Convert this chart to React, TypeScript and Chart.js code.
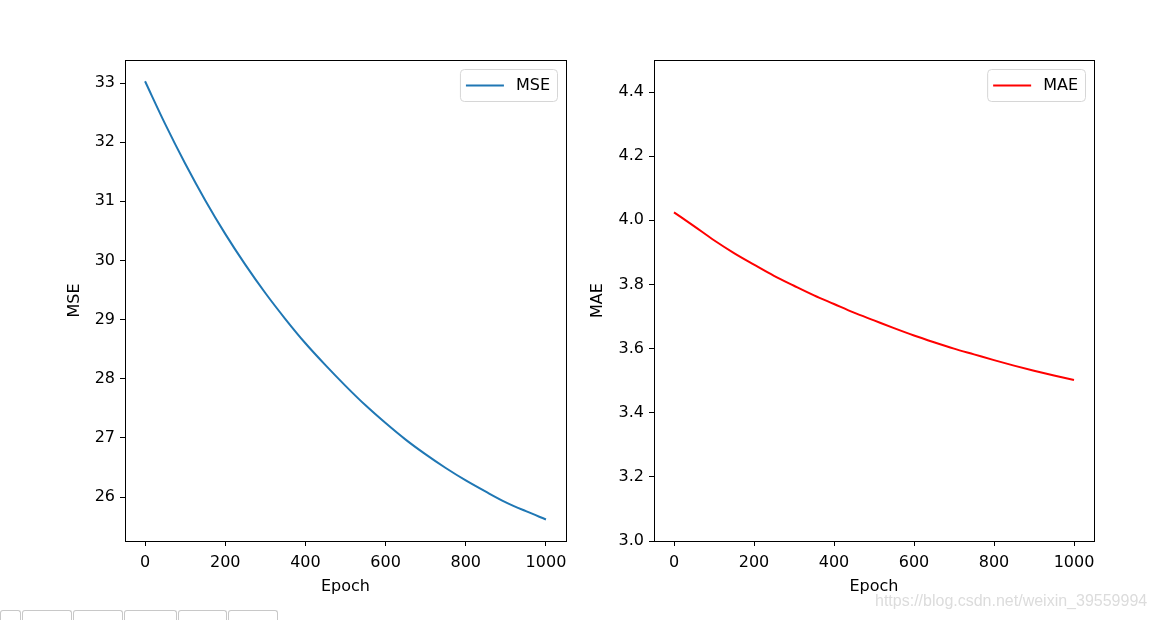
import React, { useEffect, useRef } from "react";
import { Chart, registerables } from "chart.js";

Chart.register(...registerables);

// ---- data ----
const epochs = [0, 50, 100, 150, 200, 250, 300, 350, 400, 450, 500, 550, 600, 650, 700, 750, 800, 850, 900, 950, 1000];
const mseValues = [33.03, 32.31, 31.64, 31.02, 30.45, 29.93, 29.45, 29.01, 28.6, 28.23, 27.88, 27.55, 27.25, 26.97, 26.72, 26.49, 26.28, 26.09, 25.91, 25.76, 25.62];
const maeValues = [4.025, 3.982, 3.938, 3.898, 3.862, 3.827, 3.796, 3.766, 3.739, 3.712, 3.688, 3.664, 3.641, 3.62, 3.6, 3.582, 3.564, 3.547, 3.531, 3.516, 3.502];
const xTicks = [0, 200, 400, 600, 800, 1000];
const mseTicks = [26, 27, 28, 29, 30, 31, 32, 33];
const maeTicks = [3.0, 3.2, 3.4, 3.6, 3.8, 4.0, 4.2, 4.4];
const toolbarWidths = [22, 51, 51, 54, 50, 51];
const watermark = "https://blog.csdn.net/weixin_39559994";

const FAMILY = "'DejaVu Sans', sans-serif";
const FS = 16;
const LH = 1.2;
const TITLE_OFF = (FS * LH) / 2 + 4;

const mplPlugin = {
  id: "mplFrame",
  afterDraw(chart: any) {
    const opts = chart.options.plugins.mplFrame || {};
    const { ctx, chartArea: a } = chart;
    ctx.save();
    // frame
    ctx.strokeStyle = "#000";
    ctx.lineWidth = 1;
    ctx.strokeRect(Math.round(a.left) + 0.5, Math.round(a.top) + 0.5, Math.round(a.right - a.left), Math.round(a.bottom - a.top));
    // legend
    ctx.font = `${FS}px ${FAMILY}`;
    const tw = ctx.measureText(opts.label).width;
    const w = 6 + 38 + 12 + tw + 7;
    const h = 32;
    const right = a.right - 9;
    const top = a.top + 9;
    const left = right - w;
    ctx.beginPath();
    ctx.roundRect(left + 0.5, top + 0.5, w, h, 4);
    ctx.fillStyle = "rgba(255,255,255,0.8)";
    ctx.fill();
    ctx.strokeStyle = "#d6d6d6";
    ctx.lineWidth = 1;
    ctx.stroke();
    const cy = top + h / 2 + 0.5;
    ctx.beginPath();
    ctx.moveTo(left + 6, cy);
    ctx.lineTo(left + 44, cy);
    ctx.strokeStyle = opts.color;
    ctx.lineWidth = 2;
    ctx.stroke();
    ctx.fillStyle = "#000";
    ctx.textBaseline = "middle";
    ctx.textAlign = "left";
    ctx.fillText(opts.label, left + 56, cy);
    ctx.restore();
  },
};

function tickFont() {
  return { family: FAMILY, size: FS };
}

function buildConfig(p: {
  values: number[];
  color: string;
  width: number;
  label: string;
  yMin: number;
  yMax: number;
  yTicks: number[];
  yFmt: (v: number) => string;
  padLeft: number;
  yAxisWidth: number;
  padRight: number;
}) {
  return {
    type: "line",
    data: {
      datasets: [
        {
          label: p.label,
          data: epochs.map((e, i) => ({ x: e, y: p.values[i] })),
          borderColor: p.color,
          borderWidth: p.width,
          pointRadius: 0,
          fill: false,
          cubicInterpolationMode: "monotone",
        },
      ],
    },
    options: {
      responsive: false,
      animation: false,
      events: [],
      layout: { padding: { left: p.padLeft, right: p.padRight, top: 60, bottom: 20 } },
      plugins: {
        legend: { display: false },
        tooltip: { enabled: false },
        mplFrame: { label: p.label, color: p.color },
      },
      scales: {
        x: {
          type: "linear",
          min: -50,
          max: 1050,
          afterBuildTicks: (s: any) => {
            s.ticks = xTicks.map((v) => ({ value: v }));
          },
          afterFit: (s: any) => {
            s.height = 59;
          },
          grid: { display: true, drawOnChartArea: false, drawTicks: true, tickLength: 5, color: "#000", lineWidth: 1 },
          border: { display: false },
          ticks: {
            color: "#000",
            font: tickFont(),
            padding: 7,
            maxRotation: 0,
            autoSkip: false,
            callback: (v: any) => String(v),
          },
          title: { display: true, text: "Epoch", color: "#000", font: tickFont(), padding: { top: 4, bottom: 4 } },
        },
        y: {
          type: "linear",
          min: p.yMin,
          max: p.yMax,
          afterBuildTicks: (s: any) => {
            s.ticks = p.yTicks.map((v) => ({ value: v }));
          },
          afterFit: (s: any) => {
            s.width = p.yAxisWidth;
          },
          grid: { display: true, drawOnChartArea: false, drawTicks: true, tickLength: 5, color: "#000", lineWidth: 1 },
          border: { display: false },
          ticks: {
            color: "#000",
            font: tickFont(),
            padding: 5,
            autoSkip: false,
            callback: (v: any) => p.yFmt(Number(v)),
          },
          title: { display: true, text: p.label, color: "#000", font: tickFont(), padding: { top: 4, bottom: 4 } },
        },
      },
    },
    plugins: [mplPlugin],
  } as any;
}

function ChartCanvas(props: { left: number; width: number; config: any }) {
  const ref = useRef<HTMLCanvasElement | null>(null);
  useEffect(() => {
    if (!ref.current) return;
    const c = new Chart(ref.current, props.config);
    return () => c.destroy();
  }, []);
  return (
    <canvas
      ref={ref}
      width={props.width}
      height={620}
      style={{ position: "absolute", left: props.left, top: 0, width: props.width, height: 620 }}
    />
  );
}

export default function App() {
  const left1 = 0;
  const w1 = 580;
  const left2 = 580;
  const w2 = 575;
  const yTitleX1 = 75;
  const yTitleX2 = 598;
  const cfg1 = buildConfig({
    values: mseValues,
    color: "#1f77b4",
    width: 2,
    label: "MSE",
    yMin: 25.256,
    yMax: 33.39,
    yTicks: mseTicks,
    yFmt: (v) => String(v),
    padLeft: yTitleX1 - TITLE_OFF - left1,
    yAxisWidth: 125 - (yTitleX1 - TITLE_OFF),
    padRight: left1 + w1 - 566,
  });
  const cfg2 = buildConfig({
    values: maeValues,
    color: "#ff0000",
    width: 2,
    label: "MAE",
    yMin: 3.0,
    yMax: 4.5,
    yTicks: maeTicks,
    yFmt: (v) => v.toFixed(1),
    padLeft: yTitleX2 - TITLE_OFF - left2,
    yAxisWidth: 654 - (yTitleX2 - TITLE_OFF),
    padRight: left2 + w2 - 1094,
  });

  let acc = 0;
  const boxes = toolbarWidths.map((w, i) => {
    const el = (
      <div
        key={i}
        style={{
          position: "absolute",
          left: acc,
          top: 610,
          width: w - 1,
          height: 12,
          border: "1px solid #c8c8c8",
          borderBottom: "none",
          borderRadius: "3px 3px 0 0",
          boxSizing: "border-box",
          background: "#fff",
        }}
      />
    );
    acc += w;
    return el;
  });

  return (
    <div style={{ position: "absolute", left: 0, top: 0, width: 1155, height: 620, overflow: "hidden", background: "#fff" }}>
      <ChartCanvas left={left1} width={w1} config={cfg1} />
      <ChartCanvas left={left2} width={w2} config={cfg2} />
      {boxes}
      <div
        style={{
          position: "absolute",
          left: 875,
          top: 592,
          fontFamily: "'Liberation Sans', Arial, sans-serif",
          fontSize: 16,
          color: "#dcdcdc",
          whiteSpace: "nowrap",
        }}
      >
        {watermark}
      </div>
    </div>
  );
}
